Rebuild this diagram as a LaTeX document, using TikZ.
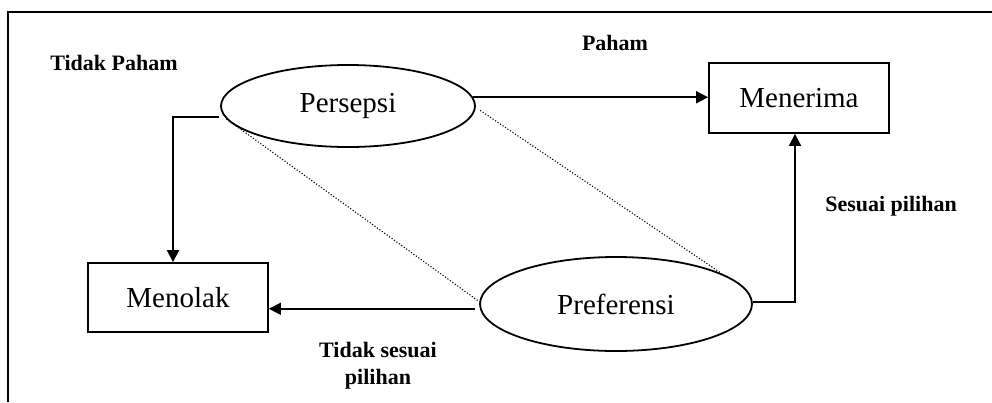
\documentclass[tikz,border=0pt]{standalone}
\usepackage{fontspec}
\setmainfont{Liberation Serif}
\usetikzlibrary{shapes.geometric,arrows.meta}
\begin{document}
\begin{tikzpicture}[x=1pt,y=-1pt,
  line width=1.8pt,
  boxnode/.style={draw, rectangle, inner sep=0pt, font=\fontsize{29}{33}\selectfont},
  ovalnode/.style={draw, ellipse, inner sep=0pt, font=\fontsize{29}{33}\selectfont},
  lbl/.style={font=\fontsize{22}{27}\selectfont\bfseries, align=center, inner sep=0pt},
  arr/.style={-{Triangle[length=12pt,width=12pt]}},
  dots/.style={line width=1.1pt, dash pattern=on 1.1pt off 1.9pt}]
  \useasboundingbox (0,0) rectangle (992,402);
  % outer frame (top and left edges)
  \draw[line width=1.9pt] (8,402) -- (8,12) -- (992,12);

  % nodes
  \node[ovalnode, minimum width=254pt, minimum height=82pt] (persepsi) at (348,106) {Persepsi};
  \node[ovalnode, minimum width=272pt, minimum height=94pt] (preferensi) at (616,304) {Preferensi};
  \node[boxnode, minimum width=180pt, minimum height=70pt] (menerima) at (799,98) {Menerima};
  \node[boxnode, minimum width=180pt, minimum height=69pt] (menolak) at (178,297.5) {Menolak};

  % labels
  \node[lbl] (ltp) at (114,63) {Tidak Paham};
  \node[lbl] (lp) at (615,43) {Paham};
  \node[lbl] (lsp) at (891,206) {Sesuai pilihan};
  \node[lbl] (ltsp) at (378,365.5) {Tidak sesuai\\pilihan};

  % connectors
  \draw[arr] (persepsi.4) -- (persepsi.4 -| menerima.west);
  \draw[arr] ([xshift=-5pt]persepsi.185) -| ([xshift=-5pt]menolak.north);
  \draw[arr] ([xshift=-5pt]preferensi.182) -- (preferensi.182 -| menolak.east);
  \draw[arr] (preferensi.1) -| ([xshift=-4pt]menerima.south);

  % dotted links between the ovals
  \draw[dots] (persepsi.186) -- (preferensi.179);
  \draw[dots] ([xshift=5pt]persepsi.-2) -- (preferensi.16);
\end{tikzpicture}
\end{document}
